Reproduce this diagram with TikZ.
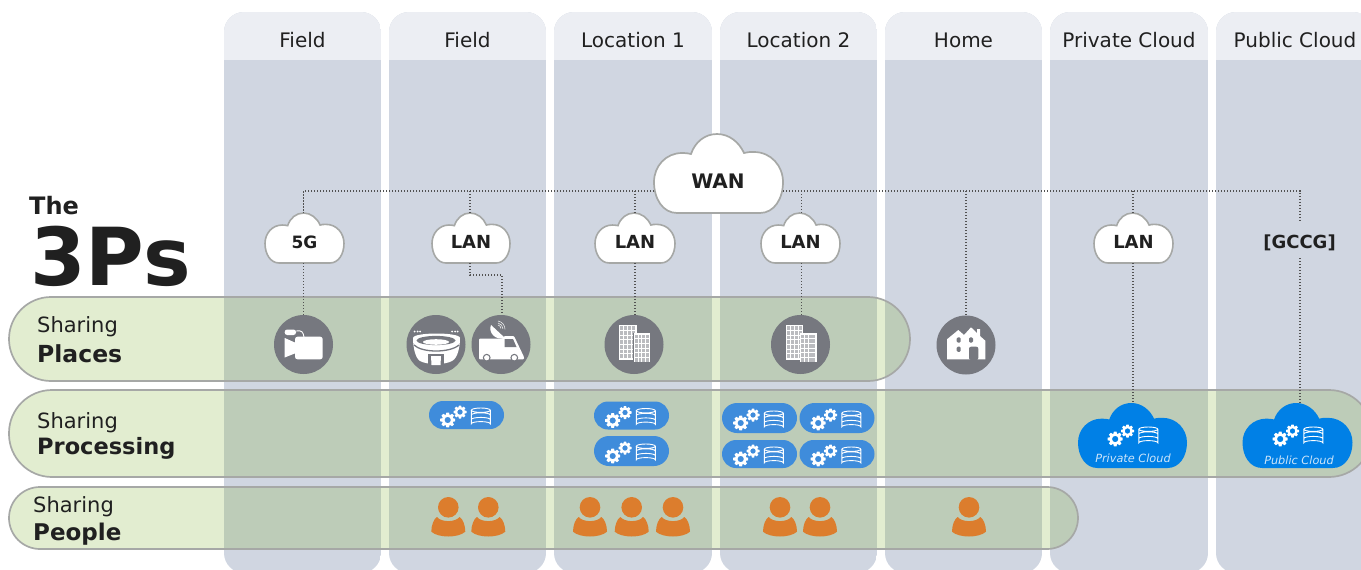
\documentclass[tikz,border=0pt]{standalone}
\usepackage{fontspec}
\setmainfont{DejaVu Sans}
\newcommand\fz[1]{\fontsize{#1}{#1}\selectfont}
\definecolor{colhead}{HTML}{ECEEF3}
\definecolor{colbody}{HTML}{D0D6E1}
\definecolor{bandgreen}{RGB}{123,173,41}
\definecolor{bandline}{HTML}{A6A8A6}
\definecolor{iconbg}{HTML}{76787F}
\definecolor{pillblue}{HTML}{3F8CDB}
\definecolor{cloudblue}{HTML}{0080E6}
\definecolor{orangep}{HTML}{DC7D2D}
\definecolor{inkc}{HTML}{202020}
\newcommand\cloudshape[5]{%
  \path[#5,shift={(#1,#2)},xscale=#3/129,yscale=#4/79]
    (23,79) .. controls (9,79) and (0,65) .. (0,48)
    .. controls (0,32) and (12,19) .. (28,19)
    .. controls (32,19) and (35,19.5) .. (37,20)
    .. controls (41,8) and (51,0) .. (63,0)
    .. controls (75,0) and (85,8) .. (90,19)
    .. controls (93,18) and (96,18) .. (100,18)
    .. controls (117,18) and (129,32) .. (129,48)
    .. controls (129,65) and (120,79) .. (106,79) -- cycle;}
% name, left, top, width, height, text, text y, text size
\newcommand\lancloud[8]{%
  \cloudshape{#2}{#3}{#4}{#5}{fill=white,draw=bandline,line width=1.6pt}
  \node[box] (#1) at ({#2+#4/2},{#3+#5/2}) [minimum width=#4pt,minimum height=#5pt] {};
  \node[inner sep=0pt,text=inkc,font=\fz{#8}\bfseries] (#1t) at ({#2+#4/2},#7) {#6};}
\tikzset{
  box/.style={inner sep=0pt,outer sep=0pt,rectangle},
  link/.style={draw=black!68,line width=1.2pt,dash pattern=on 1.3pt off 1.7pt},
  band/.style={fill=bandgreen,fill opacity=.22,draw=bandline,line width=1.7pt},
  round/.style={circle,fill=iconbg,inner sep=0pt,minimum size=59pt},
  pill/.style={rectangle,inner sep=0pt,minimum width=75pt},
  heading/.style={inner sep=0pt,text=inkc,anchor=base,font=\fz{20}},
  lab/.style={inner sep=0pt,text=inkc,anchor=base west},
  gearicon/.pic={\fill[white,even odd rule] (-10:1)
     \foreach \a in {0,45,...,315} { -- ({\a-10}:1) -- ({\a+10}:1) -- ({\a+18}:.74) -- ({\a+27}:.74) } -- cycle
     (0,0) circle (.42);},
  dbicon/.pic={\draw[white,line width=.9pt,fill=none]
     (0,-6.8) ellipse (9.5 and 2.2)
     (-9.5,-6.8) -- (-9.5,6.8) arc[start angle=180,end angle=360,x radius=9.5,y radius=2.2] -- (9.5,-6.8)
     (-9.5,-2) arc[start angle=180,end angle=360,x radius=9.5,y radius=2.2]
     (-9.5,2.6) arc[start angle=180,end angle=360,x radius=9.5,y radius=2.2];},
  procicons/.pic={\pic[scale=7.6] at (-18.8,5) {gearicon};\pic[scale=6.6] at (-6.5,-3) {gearicon};\pic at (14.3,2) {dbicon};},
  person/.pic={\fill[orangep] (0,0) circle (10.3);
     \fill[orangep] (-11.3,9.7) .. controls (-7,15.2) and (7,15.2) .. (11.3,9.7)
       .. controls (14.5,11.5) and (17,18) .. (17,24.4) .. controls (10,30.8) and (-10,30.8) .. (-17,24.4)
       .. controls (-17,18) and (-14.5,11.5) .. cycle;},
}
\begin{document}
\begin{tikzpicture}[x=1pt,y=-1pt]
\useasboundingbox (0,0) rectangle (1361,570);
\clip (0,0) rectangle (1361,570);
% columns
\foreach \l/\r in {224/381,389/546,554/712,720/877,885/1042,1050/1208,1216/1373}{
  \begin{scope}
    \clip[rounded corners=20pt] (\l,12) rectangle (\r,573);
    \fill[colbody] (\l,12) rectangle (\r,573);
    \fill[colhead] (\l,12) rectangle (\r,60);
  \end{scope}}
\node[heading] (h1) at (302.5,47.5) {Field};
\node[heading] (h2) at (467.5,47.5) {Field};
\node[heading] (h3) at (633,47.5) {Location 1};
\node[heading] (h4) at (798.5,47.5) {Location 2};
\node[heading] (h5) at (963.5,47.5) {Home};
\node[heading] (h6) at (1129,47.5) {Private Cloud};
\node[heading] (h7) at (1295,47.5) {Public Cloud};
% bands
\path[band,rounded corners=42pt] (9,297) rectangle (910,381);
\path[band,rounded corners=43pt] (9,390) rectangle (1372,477);
\path[band,rounded corners=31pt] (9,487) rectangle (1078,549);
% titles
\node[lab,font=\fz{24}\bfseries] (the) at (29,214) {The};
\node[lab,font=\fz{80}\bfseries] (tp) at (30,285) {3Ps};
\node[lab,font=\fz{21}] (s1) at (37,332.5) {Sharing};
\node[lab,font=\fz{23.5}\bfseries] (s1b) at (37,362.5) {Places};
\node[lab,font=\fz{21}] (s2) at (37,428) {Sharing};
\node[lab,font=\fz{22.5}\bfseries] (s2b) at (37,454) {Processing};
\node[lab,font=\fz{21}] (s3) at (33,512.5) {Sharing};
\node[lab,font=\fz{23}\bfseries] (s3b) at (33,540) {People};
% clouds
\cloudshape{654}{134}{129}{79}{fill=white,draw=bandline,line width=1.7pt}
\node[box,minimum width=129pt,minimum height=79pt] (wan) at (718.5,173.5) {};
\node[inner sep=0pt,text=inkc,font=\fz{20}\bfseries] (want) at (718,181) {WAN};
\lancloud{fiveg}{265}{213}{79}{50}{5G}{242}{17}
\lancloud{lana}{432}{213}{78}{50}{LAN}{242}{18}
\lancloud{lanb}{595}{213}{80}{50}{LAN}{242}{18}
\lancloud{lanc}{761}{213}{79}{50}{LAN}{242}{18}
\lancloud{land}{1094}{213}{79}{50}{LAN}{242}{18}
\node[inner sep=0pt,text=inkc,font=\fz{18}\bfseries] (gccg) at (1299.5,242.5) {[GCCG]};
% icon circles
\node[round] (cam) at (303.5,344.5) {};
\node[round] (stad) at (436,344.5) {};
\node[round] (van) at (501,344.5) {};
\node[round] (bld1) at (634,344.5) {};
\node[round] (bld2) at (800.5,344.5) {};
\node[round] (home) at (966,345) {};
% blue clouds
\cloudshape{1078}{403}{109}{65}{fill=cloudblue}
\node[box,minimum width=109pt,minimum height=65pt] (priv) at (1132.5,435.5) {};
\cloudshape{1242.5}{403}{110}{65}{fill=cloudblue}
\node[box,minimum width=110pt,minimum height=65pt] (pub) at (1297.5,435.5) {};
\pic at (1134,434) {procicons};
\pic at (1299,434) {procicons};
\node[inner sep=0pt,text=white!80!cloudblue,font=\fz{11.3}\itshape] (privt) at (1133,458) {Private Cloud};
\node[inner sep=0pt,text=white!80!cloudblue,font=\fz{11.3}\itshape] (pubt) at (1299,460) {Public Cloud};
% connectors
\coordinate (busl) at (654,191);
\coordinate (busr) at (783,191);
\coordinate (jog) at (502,275);
\draw[link] (busl) -| ([xshift=-1pt]fiveg.north);
\draw[link] ([xshift=-1pt]lana.north |- busl) -- ([xshift=-1pt]lana.north);
\draw[link] (lanb.north |- busl) -- (lanb.north);
\draw[link] (busr) -| (1300,221) coordinate (gtop);
\draw[link] ([xshift=1pt]lanc.north |- busr) -- ([xshift=1pt]lanc.north);
\draw[link] (home.north |- busr) -- (home.north);
\draw[link] ([xshift=-.5pt]land.north |- busr) -- ([xshift=-.5pt]land.north);
\draw[link] ([xshift=-1pt]fiveg.south) -- ([xshift=0pt]cam.north);
\draw[link] ([xshift=-1pt]lana.south) |- (jog) -- (jog |- van.north);
\draw[link] (lanb.south) -- (lanb.south |- bld1.north);
\draw[link] ([xshift=1pt]lanc.south) -- ([xshift=1pt]lanc.south |- bld2.north);
\draw[link] ([xshift=-.5pt]land.south) -- ([xshift=-.5pt]land.south |- priv.north);
\draw[link] (1300,258) coordinate (gbot) -- (gbot |- pub.north);
% pills
\foreach \n/\x/\y/\h in {pa/466.5/415/28,pb/631.5/415.5/28,pc/631.5/451/30,pd/759.5/418/30,pe/837/418/30,pf/759.5/454/28,pg/837/454/28}{
  \node[pill,minimum height=\h pt] (\n) at (\x,\y) {};
  \fill[pillblue] ({\x-(75-\h)/2},{\y-\h/2}) -- ++({75-\h},0) arc[start angle=-90,end angle=90,radius=\h/2] -- ++({\h-75},0) arc[start angle=90,end angle=270,radius=\h/2] -- cycle;
  \pic at (\x,\y) {procicons};}
% people
\foreach \x in {448.3,488.3,590,631.7,673,780,820,969}{\pic at (\x,507.3) {person};}
% camera
\fill[white,rounded corners=2.5pt] (295,336.7) rectangle (322.7,359.3);
\fill[white] (284.7,338) -- (296,343) -- (296,353) -- (284.7,357.5) -- cycle;
\fill[white,rounded corners=2.5pt] (284.7,329.5) rectangle (296,335);
\draw[white,line width=.9pt] (296,331) .. controls (302,330) and (303,332) .. (304,337);
% stadium
\fill[white] (413,338) .. controls (413,332) and (460,332) .. (460,338)
  .. controls (460,346) and (458,358) .. (452,361) .. controls (445,365) and (427,365) .. (420,361)
  .. controls (415,358) and (413,346) .. cycle;
\fill[iconbg] (436,340.5) ellipse (19.5 and 4.6);
\fill[white] (436,342) ellipse (13 and 2.8);
\draw[iconbg,line width=1.3pt] (414,345) .. controls (422,353) and (450,353) .. (459,345);
\fill[iconbg] (428,353.5) -- (444,353.5) -- (444,366) -- (428,366) -- cycle;
\fill[white] (431,356) -- (441,356) -- (440.5,365) -- (431.5,365) -- cycle;
\foreach \x in {414.5,417.5,420,452,455,457.5}{\fill[white] (\x,331.5) circle (1);}
% van
\fill[white,rounded corners=1pt] (479,338.5) -- (503,338.5) -- (504,336) -- (514,336) -- (524,357) -- (524,359.3) -- (479,359.3) -- cycle;
\fill[iconbg] (504.5,339) -- (513,339) -- (516.5,347) -- (504.5,347) -- cycle;
\foreach \x in {486.7,514.3}{\fill[iconbg] (\x,357.7) circle (3.9);\fill[white] (\x,357.7) circle (2.6);}
\fill[white] (491,325) .. controls (488,332) and (495,341) .. (505,338) -- cycle;
\draw[white!85!iconbg,line width=.6pt] (498,325) arc[start angle=-80,end angle=0,radius=3.5]
   (498,323) arc[start angle=-80,end angle=0,radius=6] (498,321) arc[start angle=-80,end angle=0,radius=8.5];
% buildings
\foreach \c in {634,800.5}{
  \begin{scope}[shift={(\c,344.5)}]
   \fill[white] (-14.7,-19.5) rectangle (2.7,15.5);
   \foreach \i in {0,...,3}\foreach \j in {0,...,6}{\fill[iconbg!50] ({-13.6+\i*3.9},{-18.4+\j*4.7}) rectangle +(3,3.8);}
   \fill[iconbg] (-.9,-11.8) rectangle (16.4,18.4);
   \fill[white] (-.2,-11.2) rectangle (16,17.8);
   \foreach \i in {0,...,3}\foreach \j in {0,...,5}{\fill[iconbg!50] ({.8+\i*3.7},{-10+\j*4.7}) rectangle +(2.9,3.8);}
  \end{scope}}
% house
\fill[white] (947,359.3) -- (947,339.3) -- (958.3,330) -- (964,335) -- (971,327.3) -- (977,333) -- (977,329) -- (980,329) -- (980,336) -- (985.3,340.7) -- (985.3,359.3) -- cycle;
\fill[iconbg,rounded corners=2pt] (969,360) -- (969,346.7) -- (978.3,346.7) -- (978.3,360) -- cycle;
\foreach \x/\y in {958.7/340,971/340,958.7/349.3}{\fill[iconbg,rounded corners=1.2pt] (\x-2,\y-2.6) rectangle (\x+2,\y+2.6);}
\end{tikzpicture}
\end{document}
